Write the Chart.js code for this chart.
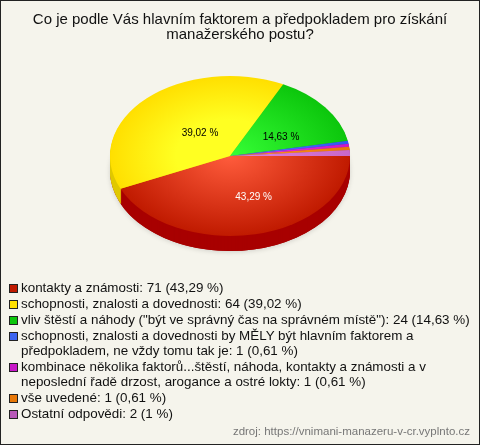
<!DOCTYPE html>
<html><head><meta charset="utf-8">
<style>
html,body{margin:0;padding:0;background:#f5f4ec;}
#wrap{position:relative;width:480px;height:445px;box-sizing:border-box;overflow:hidden;font-family:"Liberation Sans",Arial,sans-serif;}
#frame{position:absolute;left:0;top:0;width:480px;height:445px;box-sizing:border-box;border:1px solid #222;pointer-events:none;}
canvas{position:absolute;left:0;top:0;}
#title{position:absolute;left:0;top:11px;width:480px;text-align:center;font-size:15px;line-height:15px;color:#111;}
#legend{position:absolute;left:9px;top:281px;width:464px;font-size:13.4px;line-height:14.6px;color:#111;}
.row{position:relative;padding-left:12px;margin-bottom:1.5px;}
.sw{position:absolute;left:0;top:3px;width:7px;height:7px;border:1px solid #222;}
#src{position:absolute;right:10px;top:425px;font-size:11.5px;color:#777;}
</style>
<script src="https://cdn.jsdelivr.net/npm/chart.js@4"></script>
</head><body>
<div id="wrap"><canvas id="c" width="480" height="445"></canvas>
<div id="title"></div><div id="legend"></div><div id="src"></div><div id="frame"></div></div>
<script>
const titleLines = ["Co je podle Vás hlavním faktorem a předpokladem pro získání","manažerského postu?"];
const categories = ["kontakty a známosti","schopnosti, znalosti a dovednosti","vliv štěstí a náhody (\"být ve správný čas na správném místě\")","schopnosti, znalosti a dovednosti by MĚLY být hlavním faktorem a předpokladem, ne vždy tomu tak je","kombinace několika faktorů...štěstí, náhoda, kontakty a známosti a v neposlední řadě drzost, arogance a ostré lokty","vše uvedené","Ostatní odpovědi"];
const values = [71,64,24,1,1,1,2];
const pctText = ["43,29 %","39,02 %","14,63 %","0,61 %","0,61 %","0,61 %","1 %"];
const innerColors = ["#ff5c3c","#ffff22","#36ff36","#5a78ff","#f030f0","#ff9a20","#e080e0"];
const outerColors = ["#c01a00","#ffdf00","#0cc60c","#3058f0","#c818c8","#e87808","#c868c8"];
const gradientHold = [0,0.45,0,0,0,0,0];
const sideColors  = ["#a80000","#e0c800","#0a9a0a","#2040c0","#a010a0","#c06000","#a050a0"];
const swatchColors= ["#c01a00","#ffe000","#0cc60c","#3c64f0","#c818c8","#e87808","#b858b8"];
const shownLabels = [0,1,2];
const labelColors = ["#fff","#000","#000"];
const labelPull = [[0.197,0.52],[-0.25,-0.29],[0.425,-0.24]];
const sourceText = "zdroj: https://vnimani-manazeru-v-cr.vyplnto.cz";
const flatten = 2/3, depth = 15;

document.getElementById('title').innerHTML=titleLines.join('<br>');
const legendEl = document.getElementById('legend');
categories.forEach((c,i)=>{
  const r=document.createElement('div'); r.className='row';
  const s=document.createElement('span'); s.className='sw'; s.style.background=swatchColors[i]; r.appendChild(s);
  r.appendChild(document.createTextNode(c+': '+values[i]+' ('+pctText[i]+')'));
  legendEl.appendChild(r);
});
document.getElementById('src').textContent=sourceText;

function radial(ctx,i){
  const a=ctx.chart.chartArea; if(!a) return innerColors[i];
  const cx=(a.left+a.right)/2, cy=(a.top+a.bottom)/2, R=Math.min(a.width,a.height)/2;
  const g=ctx.chart.ctx.createRadialGradient(cx,cy,0,cx,cy,R);
  g.addColorStop(0,innerColors[i]);
  if(gradientHold[i]) g.addColorStop(gradientHold[i],innerColors[i]);
  g.addColorStop(1,outerColors[i]);
  return g;
}
let pieCy=0;
const tilt={
  id:'tilt',
  beforeDatasetsDraw(chart){
    const ctx=chart.ctx, arcs=chart.getDatasetMeta(0).data;
    const a=chart.chartArea; pieCy=(a.top+a.bottom)/2;
    ctx.save();
    ctx.translate(0,pieCy); ctx.scale(1,flatten); ctx.translate(0,-pieCy);
    ctx.save();
    ctx.shadowColor='rgba(0,0,0,0.15)'; ctx.shadowBlur=5; ctx.shadowOffsetY=1;
    ctx.fillStyle=sideColors[0];
    ctx.beginPath(); ctx.arc(arcs[0].x,arcs[0].y+depth/flatten,arcs[0].outerRadius,0,Math.PI*2); ctx.fill();
    ctx.restore();
    for(let d=depth;d>=1;d--){
      arcs.forEach((e,i)=>{
        const y=e.y+d/flatten;
        ctx.fillStyle=sideColors[i];
        ctx.beginPath(); ctx.moveTo(e.x,y); ctx.arc(e.x,y,e.outerRadius,e.startAngle,e.endAngle); ctx.closePath(); ctx.fill();
      });
    }
  },
  afterDatasetsDraw(chart){
    const ctx=chart.ctx; ctx.restore();
    const arcs=chart.getDatasetMeta(0).data;
    ctx.save();
    ctx.font='10px "Liberation Sans",Arial,sans-serif';
    ctx.textAlign='center'; ctx.textBaseline='middle';
    shownLabels.forEach((i,k)=>{
      const e=arcs[i], R=e.outerRadius;
      ctx.fillStyle=labelColors[k];
      ctx.fillText(pctText[i], e.x+labelPull[k][0]*R, pieCy+labelPull[k][1]*R*flatten);
    });
    ctx.restore();
  }
};
new Chart(document.getElementById('c'),{
  type:'pie',
  data:{labels:categories,datasets:[{data:values,borderWidth:0,
    backgroundColor:ctx=>radial(ctx,ctx.dataIndex)}]},
  options:{
    responsive:false,animation:false,rotation:90,
    layout:{padding:{left:110,right:130,top:36,bottom:169}},
    plugins:{legend:{display:false},tooltip:{enabled:false},title:{display:false}}
  },
  plugins:[tilt]
});
</script>
</body></html>
